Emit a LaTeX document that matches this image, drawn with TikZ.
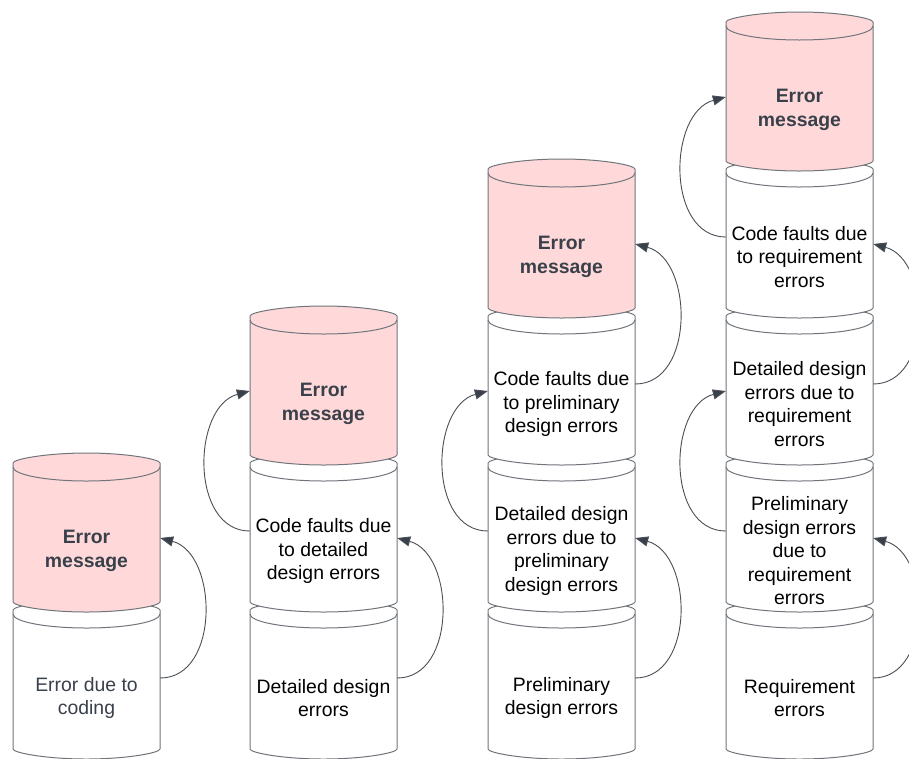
\documentclass[tikz,border=0pt]{standalone}
\usepackage{fontspec}
\setmainfont{Liberation Sans}
\usetikzlibrary{arrows.meta}
\definecolor{errpink}{RGB}{255,217,218}
\definecolor{cylgrey}{RGB}{112,117,124}
\definecolor{linkgrey}{RGB}{74,79,87}
\definecolor{errtext}{RGB}{58,64,74}
\tikzset{cylline/.style={draw=cylgrey,line width=1pt},
         cyltext/.style={font=\fontsize{19.4pt}{23.5pt}\selectfont,align=center,
                         minimum width=147pt,inner sep=0pt},
         errtxt/.style={font=\fontsize{19.4pt}{23.5pt}\selectfont\bfseries,text=errtext},
         link/.style={draw=linkgrey,line width=0.9pt,
                      -{Triangle[length=13pt,width=10pt,fill=errtext]},
                      looseness=1.1}}
\newcommand\errcyl[6]{%
 \filldraw[cylline,fill=#4,rounded corners=4pt] (#2-73.5,#3) -- (#2-73.5,#3+131)
   arc[start angle=180,end angle=0,x radius=73.5,y radius=14]
   -- (#2+73.5,#3) arc[start angle=0,end angle=-180,x radius=73.5,y radius=14] -- cycle;
 \draw[cylline] (#2-73.5,#3) arc[start angle=180,end angle=0,x radius=73.5,y radius=14];
 \node[cyltext,#5] (#1) at (#2,#3+84) {#6};
}
\begin{document}
\begin{tikzpicture}[x=1pt,y=-1pt]
 \useasboundingbox[fill=white] (0,0) rectangle (909,758);
 \errcyl{c1cod}{86.5}{614}{white}{text=errtext}{Error due to\\coding}
 \errcyl{c1msg}{86.5}{467}{errpink}{errtxt}{Error\\message}

 \errcyl{c2det}{323.5}{614}{white}{}{Detailed design\\errors}
 \errcyl{c2cod}{323.5}{467}{white}{}{Code faults due\\to detailed\\design errors}
 \errcyl{c2msg}{323.5}{320}{errpink}{errtxt}{Error\\message}

 \errcyl{c3pre}{561.5}{614}{white}{}{Preliminary\\design errors}
 \errcyl{c3det}{561.5}{467}{white}{}{Detailed design\\errors due to\\preliminary\\design errors}
 \errcyl{c3cod}{561.5}{320}{white}{}{Code faults due\\to preliminary\\design errors}
 \errcyl{c3msg}{561.5}{173}{errpink}{errtxt}{Error\\message}

 \errcyl{c4req}{799.5}{614}{white}{}{Requirement\\errors}
 \errcyl{c4pre}{799.5}{467}{white}{}{Preliminary\\design errors\\due to\\requirement\\errors}
 \errcyl{c4det}{799.5}{320}{white}{}{Detailed design\\errors due to\\requirement\\errors}
 \errcyl{c4cod}{799.5}{173}{white}{}{Code faults due\\to requirement\\errors}
 \errcyl{c4msg}{799.5}{26}{errpink}{errtxt}{Error\\message}

 \draw[link] ([yshift=20pt]c1cod.east) to[out=0,in=-15] ([yshift=13pt]c1msg.east);

 \draw[link] ([yshift=20pt]c2det.east) to[out=0,in=-15] ([yshift=13pt]c2cod.east);
 \draw[link] ([yshift=20pt]c2cod.west) to[out=180,in=195] ([yshift=13pt]c2msg.west);

 \draw[link] ([yshift=20pt]c3pre.east) to[out=0,in=-15] ([yshift=13pt]c3det.east);
 \draw[link] ([yshift=20pt]c3det.west) to[out=180,in=195] ([yshift=13pt]c3cod.west);
 \draw[link] ([yshift=20pt]c3cod.east) to[out=0,in=-15] ([yshift=13pt]c3msg.east);

 \draw[link] ([yshift=20pt]c4req.east) to[out=0,in=-15] ([yshift=13pt]c4pre.east);
 \draw[link] ([yshift=20pt]c4pre.west) to[out=180,in=195] ([yshift=13pt]c4det.west);
 \draw[link] ([yshift=20pt]c4det.east) to[out=0,in=-15] ([yshift=13pt]c4cod.east);
 \draw[link] ([yshift=20pt]c4cod.west) to[out=180,in=195] ([yshift=13pt]c4msg.west);
\end{tikzpicture}
\end{document}
